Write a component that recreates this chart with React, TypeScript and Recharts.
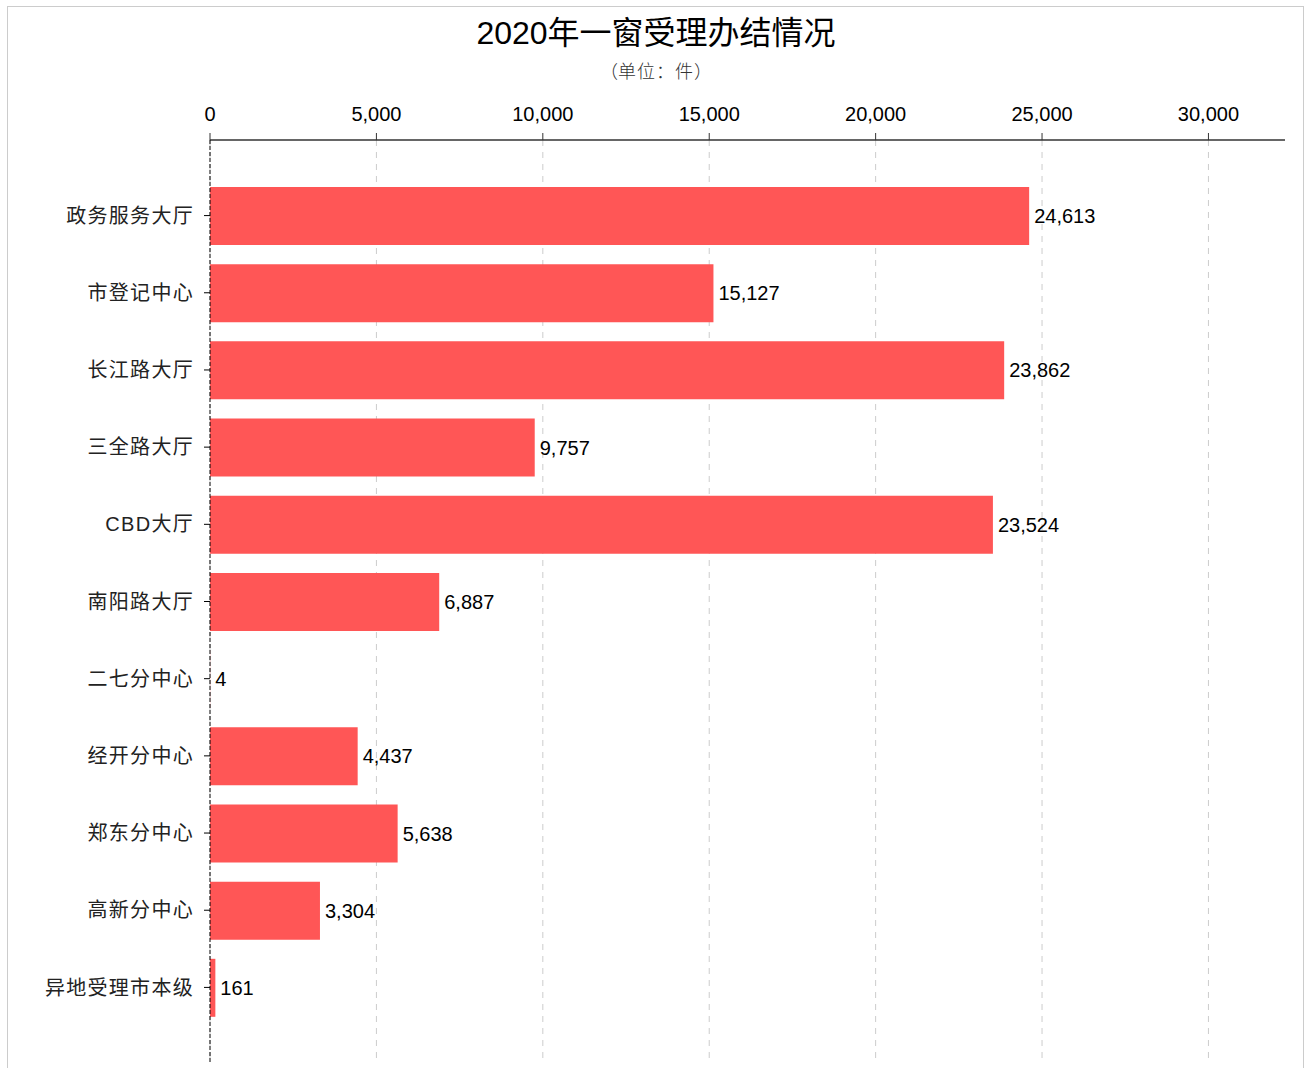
import { BarChart, Bar, XAxis, YAxis, CartesianGrid, LabelList } from 'recharts'

const categories = [
  '政务服务大厅',
  '市登记中心',
  '长江路大厅',
  '三全路大厅',
  'CBD大厅',
  '南阳路大厅',
  '二七分中心',
  '经开分中心',
  '郑东分中心',
  '高新分中心',
  '异地受理市本级',
]
const values = [24613, 15127, 23862, 9757, 23524, 6887, 4, 4437, 5638, 3304, 161]
const xTicks = [0, 5000, 10000, 15000, 20000, 25000, 30000]

const data = categories.map((name, i) => ({ name, value: values[i] }))

const font = '"Liberation Sans", Arial, "Noto Sans CJK SC", sans-serif'
const cjkFont = '"Noto Sans CJK SC", sans-serif'
const fmt = (v: number) => Number(v).toLocaleString('en-US')

const paren = (ch: string, align: 'left' | 'right') => (
  <span style={{ display: 'inline-block', width: 18, textAlign: align }}>{ch}</span>
)

export default function App() {
  return (
    <div style={{ position: 'absolute', left: 0, top: 0, width: 1308, height: 1068, fontFamily: font }}>
      <div
        style={{
          position: 'absolute',
          left: 7,
          top: 6,
          width: 1297,
          height: 1080,
          border: '1px solid #cccccc',
          boxSizing: 'border-box',
        }}
      />
      <div
        style={{
          position: 'absolute',
          left: 0,
          top: 12,
          width: 1312,
          textAlign: 'center',
          fontSize: 32,
          lineHeight: '42px',
          color: '#000',
        }}
      >
        2020年一窗受理办结情况
      </div>
      <div
        style={{
          position: 'absolute',
          left: 0,
          top: 57,
          width: 1312,
          textAlign: 'center',
          fontSize: 18,
          lineHeight: '26px',
          color: '#333',
          fontFamily: cjkFont,
          fontWeight: 300,
          letterSpacing: 1,
        }}
      >
        {paren('（', 'right')}单位：件{paren('）', 'left')}
      </div>
      <div style={{ position: 'absolute', left: 0, top: 0 }}>
        <BarChart
          width={1308}
          height={1068}
          data={data}
          layout="vertical"
          margin={{ top: 100, right: 23, left: 10, bottom: 5 }}
        >
          <CartesianGrid
            horizontal={false}
            stroke="#cccccc"
            strokeDasharray="6 6"
            syncWithTicks
          />
          <XAxis
            type="number"
            orientation="top"
            domain={[0, 32300]}
            ticks={xTicks}
            tickFormatter={fmt}
            height={40}
            tickSize={7}
            tickMargin={12}
            axisLine={{ stroke: '#333', strokeWidth: 1.5 }}
            tickLine={{ stroke: '#333' }}
            tick={{ fill: '#000', fontSize: 20, fontFamily: font }}
            interval={0}
          />
          <YAxis
            type="category"
            dataKey="name"
            width={200}
            padding={{ top: 37, bottom: 37 }}
            tickSize={6}
            tickMargin={10}
            axisLine={{ stroke: '#000', strokeDasharray: '4 2' }}
            tickLine={{ stroke: '#000' }}
            tick={{ fill: '#222', fontSize: 20, fontFamily: font, letterSpacing: 1.3 }}
            interval={0}
          />
          <Bar dataKey="value" fill="#ff5656" barSize={58} isAnimationActive={false}>
            <LabelList
              dataKey="value"
              position="right"
              offset={5}
              formatter={(v: any) => fmt(v)}
              style={{ fill: '#000', fontSize: 20, fontFamily: font }}
            />
          </Bar>
        </BarChart>
      </div>
    </div>
  )
}
